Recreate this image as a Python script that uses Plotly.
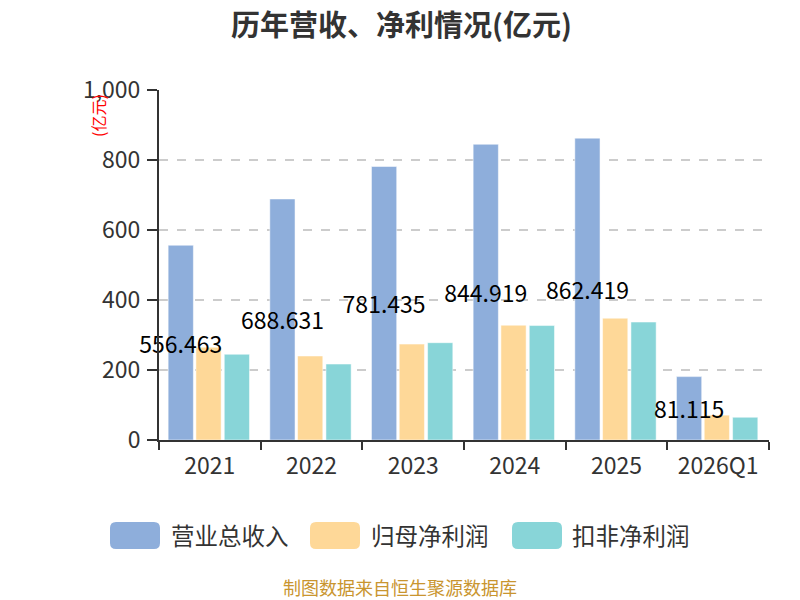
import plotly.graph_objects as go

# 数据（亿元）
categories = ["2021", "2022", "2023", "2024", "2025", "2026Q1"]
revenue = [556.463, 688.631, 781.435, 844.919, 862.419, 181.115]
revenue_labels = ["556.463", "688.631", "781.435", "844.919", "862.419", "81.115"]
net_profit = [265, 240, 274, 328, 348, 71]
net_profit_deducted = [245, 217, 278, 327, 337, 65]
series_names = ["营业总收入", "归母净利润", "扣非净利润"]
series_colors = ["#8eaedb", "#fed898", "#88d5d8"]

FONT = "Noto Sans CJK SC"

# plot area in pixels (for placing the hand-made legend / titles)
L, R, T, B = 159, 31, 90, 160
PW, PH = 800 - L - R, 600 - T - B


def px(x):
    return (x - L) / PW


def py(y):
    return (600 - y - B) / PH


fig = go.Figure()

bar_width = 0.248
offsets = [-0.41, -0.137, 0.142]

# draw the two profit series first so the revenue labels sit on top
fig.add_trace(go.Bar(
    x=categories, y=net_profit, name=series_names[1],
    offset=offsets[1], width=bar_width,
    marker=dict(color=series_colors[1], line=dict(color="white", width=0.5)),
    showlegend=False,
))
fig.add_trace(go.Bar(
    x=categories, y=net_profit_deducted, name=series_names[2],
    offset=offsets[2], width=bar_width,
    marker=dict(color=series_colors[2], line=dict(color="white", width=0.5)),
    showlegend=False,
))
fig.add_trace(go.Bar(
    x=categories, y=revenue, name=series_names[0],
    offset=offsets[0], width=bar_width,
    marker=dict(color=series_colors[0], line=dict(color="white", width=0.5)),
    text=revenue_labels, textposition="inside", insidetextanchor="middle",
    constraintext="none", textangle=0, cliponaxis=False,
    textfont=dict(color="#000000", size=23, family=FONT),
    showlegend=False,
))

# custom legend (big rounded swatches)
shapes = []
annotations = []
legend_pos = [(110, 160, 171), (310, 360, 371), (512, 562, 572)]
for (x0, x1, tx), name, color in zip(legend_pos, series_names, series_colors):
    y_top, y_bot = 522, 549
    r = 6
    a, b = px(x0), px(x1)
    c, d = py(y_bot), py(y_top)
    rx, ry = r / PW, r / PH
    path = (f"M {a+rx},{c} L {b-rx},{c} Q {b},{c} {b},{c+ry} "
            f"L {b},{d-ry} Q {b},{d} {b-rx},{d} L {a+rx},{d} "
            f"Q {a},{d} {a},{d-ry} L {a},{c+ry} Q {a},{c} {a+rx},{c} Z")
    shapes.append(dict(type="path", path=path, xref="paper", yref="paper",
                       fillcolor=color, line=dict(width=0), layer="above"))
    annotations.append(dict(text=name, xref="paper", yref="paper",
                            x=px(tx - 2), y=py(535),
                            xanchor="left", yanchor="middle", showarrow=False,
                            font=dict(size=23.5, color="#333333", family=FONT)))

annotations.append(dict(text="<b>历年营收、净利情况(亿元)</b>", xref="paper", yref="paper",
                        x=px(401), y=py(23),
                        xanchor="center", yanchor="middle", showarrow=False,
                        font=dict(size=29, color="#333333", family=FONT)))
annotations.append(dict(text="制图数据来自恒生聚源数据库", xref="paper", yref="paper",
                        x=px(400), y=py(587),
                        xanchor="center", yanchor="middle", showarrow=False,
                        font=dict(size=18, color="#c9952f", family=FONT)))
annotations.append(dict(text="(亿元)", xref="paper", yref="paper",
                        x=px(98), y=py(116),
                        xanchor="center", yanchor="middle", showarrow=False,
                        textangle=-90,
                        font=dict(size=16, color="#ff0000", family=FONT)))

fig.update_layout(
    width=800, height=600,
    margin=dict(l=L, r=R, t=T, b=B, pad=0),
    paper_bgcolor="white", plot_bgcolor="white",
    barmode="overlay",
    font=dict(family=FONT, color="#333333"),
    shapes=shapes, annotations=annotations,
    xaxis=dict(
        showline=True, linecolor="#333333", linewidth=2,
        ticks="outside", tickson="boundaries", ticklen=8, tickwidth=2, tickcolor="#333333",
        ticklabelstandoff=4,
        tickfont=dict(size=23, color="#333333"),
        showgrid=False,
    ),
    yaxis=dict(
        range=[0, 1000], dtick=200, tickformat=",",
        showline=True, linecolor="#333333", linewidth=2,
        showgrid=True, gridcolor="#cccccc", griddash="dash", gridwidth=1.5,
        zeroline=False, ticks="outside", ticklen=10, tickwidth=2, tickcolor="#333333",
        ticklabelstandoff=2,
        tickfont=dict(size=23, color="#333333"),
    ),
)

fig.write_html("out.html", config={"displayModeBar": False},
               post_script="document.body.style.margin='0';")
